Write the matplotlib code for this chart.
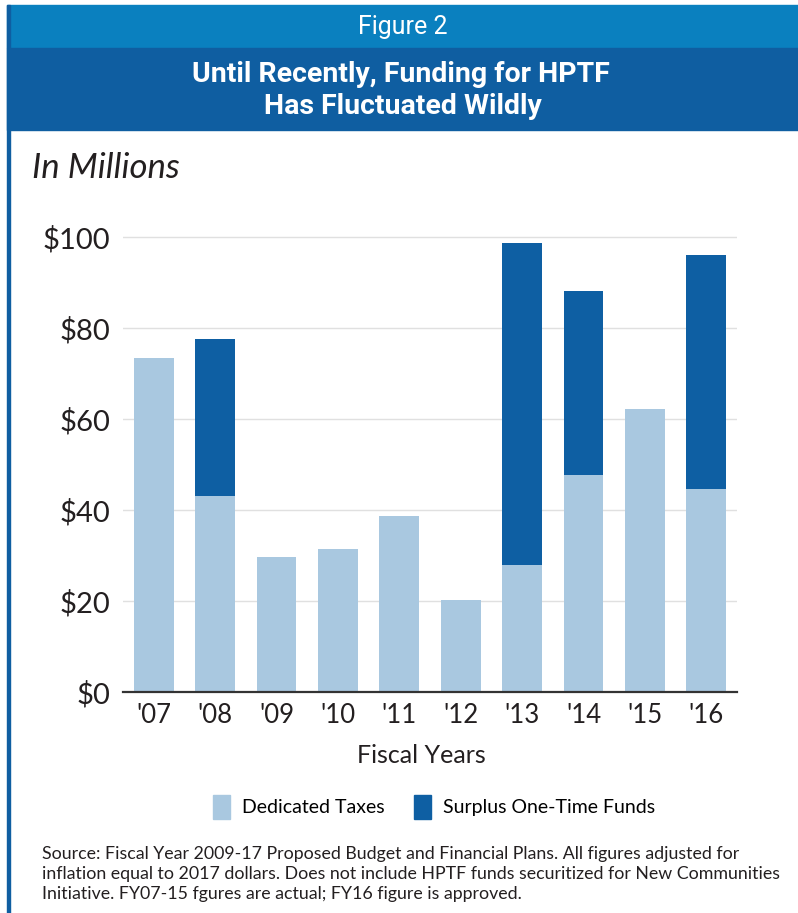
import matplotlib.pyplot as plt
from matplotlib.patches import Rectangle, Patch

# data
years = ["'07", "'08", "'09", "'10", "'11", "'12", "'13", "'14", "'15", "'16"]
dedicated = [73.4, 43.1, 29.7, 31.4, 38.7, 20.2, 27.9, 47.7, 62.2, 44.6]
surplus = [0, 34.4, 0, 0, 0, 0, 70.8, 40.4, 0, 51.4]
yticks = [0, 20, 40, 60, 80, 100]
ylabels = ["$0", "$20", "$40", "$60", "$80", "$100"]

light = "#a9c8e0"
dark = "#0e5fa3"
band1 = "#0a80bf"
band2 = "#0f5ea1"

W, H = 798, 913
fig = plt.figure(figsize=(W / 100, H / 100), dpi=100)

def fx(px):
    return px / W

def fy(py):
    return 1 - py / H

# header bands and left border
fig.patches.append(Rectangle((fx(7), fy(48)), fx(791), 43 / H, transform=fig.transFigure,
                             color=band1, zorder=0))
fig.patches.append(Rectangle((fx(7), fy(130)), fx(791), 82 / H, transform=fig.transFigure,
                             color=band2, zorder=0))
fig.patches.append(Rectangle((fx(7), 0), fx(3), fy(5), transform=fig.transFigure,
                             color=band2, zorder=0))

fig.text(fx(403), fy(27), "Figure 2", ha="center", va="center", color="white",
         fontsize=18, family="Roboto")
fig.text(fx(401), fy(75), "Until Recently, Funding for HPTF", ha="center", va="center",
         color="white", fontsize=20.5, fontweight="bold", family="Roboto")
fig.text(fx(403), fy(107), "Has Fluctuated Wildly", ha="center", va="center",
         color="white", fontsize=20.5, fontweight="bold", family="Roboto")

fig.text(fx(32), fy(168), "In Millions", ha="left", va="center", color="#231f20",
         fontsize=25, style="italic", family="Lato")

# chart area
top = 692 - 101 * 4.55
ax = fig.add_axes([fx(123), fy(692), fx(614), (692 - top) / H])
x = range(len(years))
ax.bar(x, dedicated, width=0.65, color=light, zorder=2)
ax.bar(x, surplus, width=0.65, bottom=dedicated, color=dark, zorder=2)
ax.set_xlim(-0.5, 9.5)
ax.set_ylim(0, 101)
ax.set_yticks(yticks)
ax.set_yticklabels(ylabels)
ax.set_xticks(list(x))
ax.set_xticklabels(years)
for s in ["top", "left", "right"]:
    ax.spines[s].set_visible(False)
ax.spines["bottom"].set_color("#333333")
ax.spines["bottom"].set_linewidth(1.6)
ax.spines["bottom"].set_zorder(3)
ax.yaxis.grid(True, color="#e0e0e0", linewidth=1, zorder=0)
ax.set_axisbelow(True)
ax.tick_params(axis="both", length=0, labelcolor="#231f20")
ax.tick_params(axis="y", pad=9, labelsize=21)
ax.tick_params(axis="x", pad=8, labelsize=18.5)
for lab in ax.get_xticklabels() + ax.get_yticklabels():
    lab.set_family("Lato")

fig.text(fx(421), fy(755), "Fiscal Years", ha="center", va="center", color="#231f20",
         fontsize=18, family="Lato")

handles = [Patch(color=light, label="Dedicated Taxes"),
           Patch(color=dark, label="Surplus One-Time Funds")]
fig.legend(handles=handles, loc="center", bbox_to_anchor=(fx(434), fy(807)), ncol=2,
           frameon=False, handlelength=0.9, handleheight=1.5, handletextpad=0.6,
           columnspacing=1.5, prop={"family": "Lato", "size": 14})

fig.text(fx(42), fy(846), "Source: Fiscal Year 2009-17 Proposed Budget and Financial Plans. All figures adjusted for\n"
         "inflation equal to 2017 dollars. Does not include HPTF funds securitized for New Communities\n"
         "Initiative. FY07-15 fgures are actual; FY16 figure is approved.",
         ha="left", va="top", color="#231f20", fontsize=12.8, family="Lato", linespacing=1.3)

fig.savefig("out.png", dpi=100)
